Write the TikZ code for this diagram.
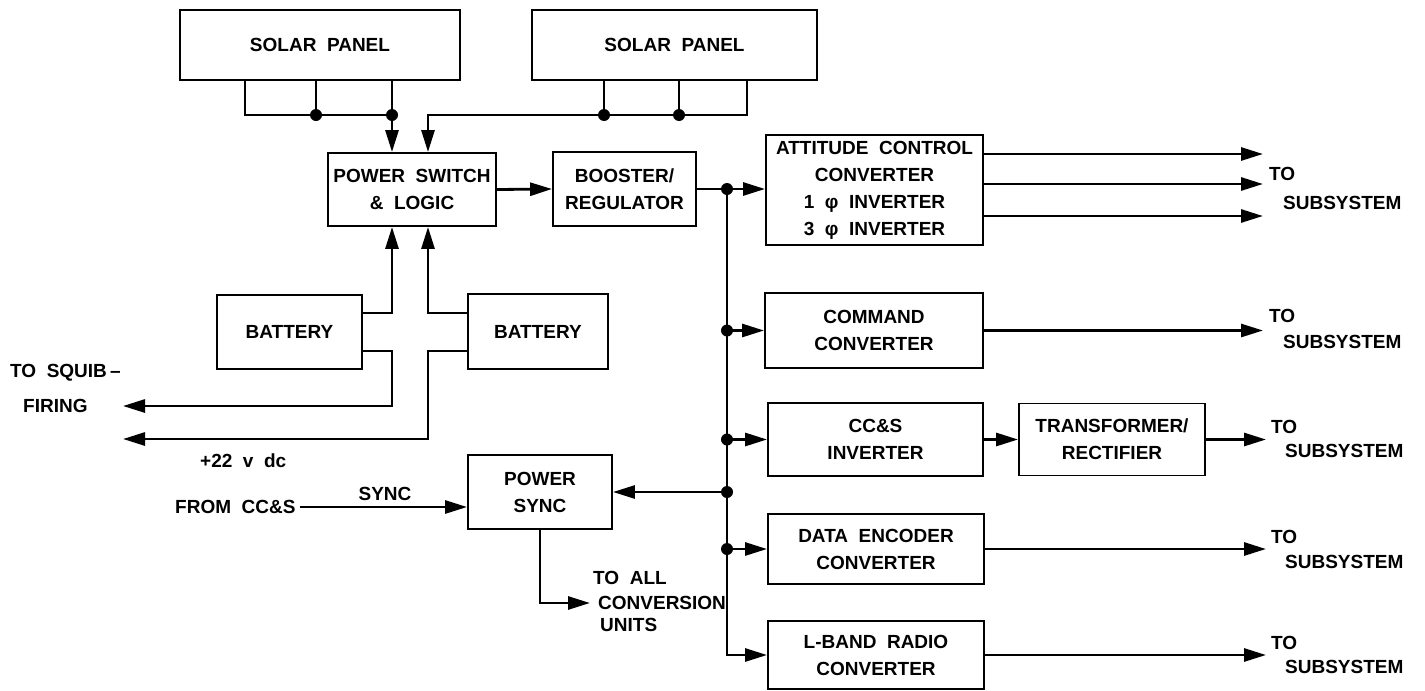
\documentclass[tikz,border=0pt]{standalone}
\usepackage{fontspec}
\setmainfont{Liberation Sans}[WordSpace=2]
\usetikzlibrary{arrows.meta,calc}
\begin{document}
\begin{tikzpicture}[x=1pt,y=-1pt,
  every node/.style={font=\fontsize{19}{27}\selectfont\bfseries},
  blk/.style={draw, line width=1.9pt, inner sep=0pt, align=center},
  wire/.style={line width=2.8pt},
  arr/.style={wire, -{Triangle[length=22pt,width=13pt]}},
  lbl/.style={anchor=west, inner sep=0pt}]
\useasboundingbox (0,0) rectangle (1425,691);

% blocks
\node[blk, minimum width=280pt, minimum height=70pt] (sp1) at (320,45) {SOLAR PANEL};
\node[blk, minimum width=285pt, minimum height=70pt] (sp2) at (674.5,45) {SOLAR PANEL};
\node[blk, minimum width=168pt, minimum height=73pt] (ps) at (412,189.5) {POWER SWITCH\\\& LOGIC};
\node[blk, minimum width=143pt, minimum height=74pt] (bst) at (624.5,189) {BOOSTER/\\REGULATOR};
\node[blk, minimum width=217pt, minimum height=110pt] (att) at (874.5,190) {ATTITUDE CONTROL\\CONVERTER\\1 φ INVERTER\\3 φ INVERTER};
\node[blk, minimum width=218pt, minimum height=75pt] (cmd) at (874,330.5) {COMMAND\\CONVERTER};
\node[blk, minimum width=215pt, minimum height=73pt] (ccs) at (875.5,439.5) {CC\&S\\INVERTER};
\node[blk, minimum width=186pt, minimum height=72pt] (tr) at (1112,439.5) {TRANSFORMER/\\RECTIFIER};
\node[blk, minimum width=216pt, minimum height=70pt] (de) at (876,549) {DATA ENCODER\\CONVERTER};
\node[blk, minimum width=216pt, minimum height=68pt] (lb) at (876,655) {L-BAND RADIO\\CONVERTER};
\node[blk, minimum width=144pt, minimum height=74pt] (psync) at (540,492) {POWER\\SYNC};
\node[blk, minimum width=145pt, minimum height=74pt] (bat1) at (289.5,332) {BATTERY};
\node[blk, minimum width=140pt, minimum height=75pt] (bat2) at (538,331.5) {BATTERY};

% solar panel buses
\coordinate (b1l) at (245,115);
\coordinate (b1m) at (316,115);
\coordinate (b1) at (392,115);
\draw[wire] (sp1.south -| b1l) |- (b1);
\draw[wire] (sp1.south -| b1m) -- (b1m);
\draw[wire] (sp1.south -| b1) -- (b1);
\draw[arr] (b1) -- (b1 |- ps.north);
\fill (b1m) circle (6pt);
\fill (b1) circle (6pt);

\coordinate (b2) at (428,115);
\coordinate (b2a) at (604,115);
\coordinate (b2b) at (679,115);
\coordinate (b2r) at (747,115);
\draw[arr] (sp2.south -| b2r) |- (b2) -- (b2 |- ps.north);
\draw[wire] (sp2.south -| b2a) -- (b2a);
\draw[wire] (sp2.south -| b2b) -- (b2b);
\fill (b2a) circle (6pt);
\fill (b2b) circle (6pt);

% power switch -> booster -> bus
\draw[arr] (ps.east) -- (bst.west);
\coordinate (j0) at (727,189);
\draw[wire] (bst.east) -- (j0);
\draw[arr] (j0) -- (att.west |- j0);
\draw[arr] (j0) |- (lb.west);
\fill (j0) circle (6pt);
\draw[arr] (cmd.west -| j0) -- (cmd.west);
\fill (cmd.west -| j0) circle (6pt);
\draw[arr] (ccs.west -| j0) -- (ccs.west);
\fill (ccs.west -| j0) circle (6pt);
\draw[arr] (psync.east -| j0) -- (psync.east);
\fill (psync.east -| j0) circle (6pt);
\draw[arr] (de.west -| j0) -- (de.west);
\fill (de.west -| j0) circle (6pt);

% outputs
\coordinate (o1) at (1263,154);
\coordinate (o2) at (1263,184);
\coordinate (o3) at (1263,216);
\draw[arr] (att.east |- o1) -- (o1);
\draw[arr] (att.east |- o2) -- (o2);
\draw[arr] (att.east |- o3) -- (o3);
\node[lbl] (t1) at (1269,174) {TO};
\node[lbl] (s1) at (1283,203) {SUBSYSTEM};

\coordinate (o4) at (1263,330.5);
\draw[arr] (cmd.east) -- (o4);
\node[lbl] (t2) at (1269,316) {TO};
\node[lbl] (s2) at (1283,342) {SUBSYSTEM};

\draw[arr] (ccs.east) -- (tr.west);
\coordinate (o5) at (1266,439.5);
\draw[arr] (tr.east) -- (o5);
\node[lbl] (t3) at (1271,427) {TO};
\node[lbl] (s3) at (1285,451) {SUBSYSTEM};

\coordinate (o6) at (1266,549);
\draw[arr] (de.east) -- (o6);
\node[lbl] (t4) at (1271,537) {TO};
\node[lbl] (s4) at (1285,562) {SUBSYSTEM};

\coordinate (o7) at (1266,655);
\draw[arr] (lb.east) -- (o7);
\node[lbl] (t5) at (1271,643) {TO};
\node[lbl] (s5) at (1285,667) {SUBSYSTEM};

% batteries
\coordinate (sq) at (123,406);
\coordinate (dc) at (123,439);
\draw[arr] (bat1.east |- 0,313) -| (ps.south -| b1);
\draw[arr] (bat1.east |- 0,351) -| (b1 |- sq) -- (sq);
\draw[arr] (bat2.west |- 0,313) -| (ps.south -| b2);
\draw[arr] (bat2.west |- 0,351) -| (b2 |- dc) -- (dc);

\node[lbl] (squib) at (10,373) {TO SQUIB\,--};
\node[lbl] (firing) at (23,406) {FIRING};
\node[lbl] (v22) at (200,461) {+22 v dc};

% power sync
\node[lbl] (from) at (175,507) {FROM CC\&S};
\draw[arr] ([xshift=4pt]from.east) -- (psync.west |- from.east);
\node[inner sep=0pt] (sync) at (385,494) {SYNC};
\coordinate (ta) at (590,603);
\draw[arr] (psync.south) |- (ta);
\node[lbl] (toall) at (593,578) {TO ALL};
\node[lbl] (conv) at (598,603) {CONVERSION};
\node[lbl] (units) at (600,625) {UNITS};
\end{tikzpicture}
\end{document}
